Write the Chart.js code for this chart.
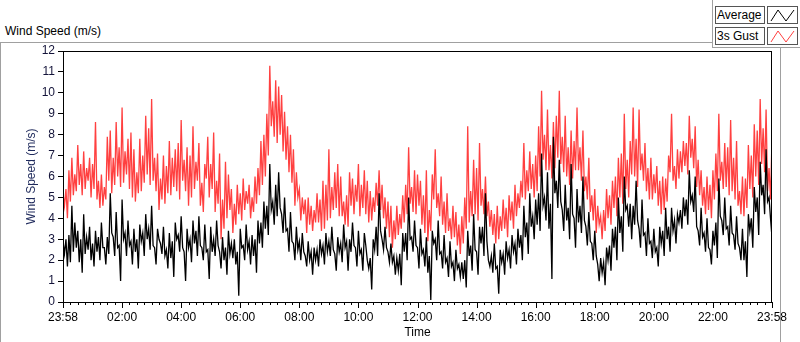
<!DOCTYPE html>
<html>
<head>
<meta charset="utf-8">
<script src="https://cdn.jsdelivr.net/npm/chart.js@4/dist/chart.umd.min.js"></script>
<style>
body{margin:0;background:#fff;font-family:"Liberation Sans",Arial,sans-serif;}
#wrap{position:relative;width:800px;height:342px;overflow:hidden;}
#frame{position:absolute;left:0;top:42px;width:779px;height:310px;border:1px solid #a0a0a0;}
#title{position:absolute;left:5px;top:24px;font-size:12px;color:#000;}
#legend{position:absolute;left:712px;top:0;width:88px;height:47px;background:#fff;border-left:1px solid #a0a0a0;border-bottom:1px solid #a0a0a0;}
.name{position:absolute;left:2px;width:47px;height:16px;border:1px solid #555;font-size:12px;line-height:16px;padding-left:1px;background:#fff;}
.icon{position:absolute;left:54px;width:29px;height:16px;border:1px solid #555;background:#fff;}
canvas{position:absolute;left:0;top:0;}
</style>
</head>
<body>
<div id="wrap">
  <div id="frame"></div>
  <div id="title">Wind Speed (m/s)</div>
  <div id="legend">
    <div class="name" style="top:6px">Average</div>
    <div class="icon" style="top:6px"><svg width="29" height="16"><polyline points="3,14 10,3 18,14 26,3" fill="none" stroke="#000" stroke-width="1"/></svg></div>
    <div class="name" style="top:27px">3s Gust</div>
    <div class="icon" style="top:27px"><svg width="29" height="16"><polyline points="3,14 10,3 18,14 26,3" fill="none" stroke="#ff4040" stroke-width="1"/></svg></div>
  </div>
  <canvas id="chart" width="800" height="342"></canvas>
</div>
<script>
// samples roughly every 3 minutes from 23:58 to 23:58
const spanMinutes = 1440

const tickLabels = ['23:58', '02:00', '04:00', '06:00', '08:00', '10:00', '12:00',
    '14:00', '16:00', '18:00', '20:00', '22:00', '23:58']

const gust = [
    5.2,4.6, 5.4,4.0, 6.3,4.8, 6.9,5.1, 6.1,5.3, 7.5,5.6, 6.6,5.1, 7.2,5.4, 6.4,5.8, 6.9,5.0,
    6.6,5.4, 8.6,4.9, 5.8,4.5, 6.1,4.6, 5.5,4.9, 7.9,5.8, 8.2,5.2, 6.9,5.6, 8.6,6.0, 7.4,5.5,
    9.3,5.7, 7.2,6.1, 7.8,5.4, 8.1,5.0, 7.3,4.8, 6.2,5.2, 7.8,5.3, 7.0,5.7, 8.9,6.1, 8.3,5.6,
    9.7,5.8, 6.9,5.3, 7.1,4.4, 5.9,4.9, 7.0,4.7, 6.5,5.2, 7.7,5.1, 6.9,5.5, 7.3,5.3, 7.6,4.9,
    8.7,5.8, 6.8,5.3, 7.4,4.6, 7.0,5.0, 8.4,5.4, 6.7,5.8, 7.6,4.6, 5.7,4.3, 6.6,5.9,
    7.9,5.0, 6.6,5.4, 8.1,4.3, 5.8,4.7, 7.1,3.0, 4.9,3.5, 6.7,4.0, 6.1,4.4, 5.4,3.3, 4.7,3.7,
    5.6,4.2, 5.2,3.9, 5.9,4.4, 5.3,4.7, 5.6,4.0, 5.0,4.3, 6.0,4.7, 6.4,5.1, 7.7,5.6, 8.0,6.0,
    9.0,7.0, 11.3,8.4, 9.6,7.9, 10.6,7.6, 10.3,8.0, 9.9,7.2, 9.1,6.8, 8.4,6.2, 8.0,5.7, 7.3,4.6,
    6.2,5.0, 5.4,3.9, 5.0,4.2, 4.9,3.3, 5.0,3.7, 4.6,3.4, 4.4,3.8, 5.2,3.8, 4.9,3.4, 5.8,3.5,
    5.6,3.9, 7.3,4.0, 5.5,4.4, 6.2,4.5, 6.6,4.1, 6.0,4.1, 4.8,3.7, 5.1,3.6,
    6.2,4.6, 5.9,4.2, 5.6,4.8, 6.6,4.1, 5.6,4.5, 6.3,4.2, 5.8,3.8, 5.3,3.9, 5.0,4.3, 5.7,4.6,
    6.3,4.4, 5.6,4.0, 5.0,3.5, 4.8,3.1, 4.6,2.6, 3.9,3.0, 4.6,3.2, 4.2,3.5, 5.1,3.8, 5.6,4.2,
    7.4,4.7, 5.5,4.3, 6.3,4.2, 6.1,4.6, 5.8,3.7, 5.1,3.3, 6.3,2.9, 4.4,3.4, 6.1,4.9, 7.3,4.5,
    5.2,4.1, 6.0,3.7, 4.8,3.3, 5.2,3.4, 4.0,3.0, 4.6,3.1, 4.3,2.7, 3.7,2.3, 4.1,2.8, 5.0,3.5,
    8.4,3.8, 5.3,4.1, 6.8,4.2, 6.4,3.9, 7.6,4.6, 5.4,4.2, 6.0,4.1, 4.8,3.6,
    4.4,3.2, 4.2,2.8, 4.6,3.0, 4.1,3.4, 4.9,3.5, 4.5,3.1, 5.1,3.9, 4.8,3.5, 5.6,4.1, 5.2,4.5,
    5.8,5.0, 7.6,4.9, 6.3,5.3, 7.2,5.4, 6.6,5.0, 7.0,5.3, 8.4,6.0, 10.1,6.8, 8.0,6.3, 9.2,6.3,
    7.5,5.9, 8.6,6.4, 8.9,6.9, 10.1,6.6, 7.9,6.2, 8.9,6.0, 7.4,5.6, 8.2,5.9, 7.7,6.3, 9.3,6.3,
    7.4,5.8, 8.2,5.3, 6.0,4.9, 6.9,4.3, 5.1,3.9, 5.4,3.3, 4.6,3.7, 4.1,3.0, 4.4,3.4, 5.4,4.0,
    5.1,3.7, 5.8,4.5, 6.0,4.1, 6.9,5.0, 7.1,4.7, 9.0,5.4, 6.8,5.0, 7.7,6.1,
    9.3,6.0, 7.8,5.5, 9.2,6.3, 7.1,5.8, 7.6,5.3, 6.4,4.9, 6.9,4.9, 6.1,5.2, 6.5,4.6, 5.8,4.2,
    6.0,4.4, 5.9,4.8, 7.0,6.2, 9.0,5.8, 6.5,5.4, 7.3,5.9, 7.2,6.2, 7.7,6.5, 7.6,6.1, 8.9,6.9,
    7.8,6.4, 8.4,5.5, 6.8,5.1, 6.3,4.6, 5.5,4.2, 6.0,4.4, 5.6,4.0, 6.3,4.9, 7.1,5.3, 9.0,5.8,
    6.7,5.4, 7.6,5.5, 7.4,5.1, 8.7,5.3, 6.9,4.9, 7.7,4.6, 5.3,4.2, 6.0,4.1, 5.9,4.5, 7.5,5.4,
    7.0,5.0, 8.5,6.0, 8.2,5.6, 9.7,6.6, 8.3,6.2, 9.2,5.3, 6.4,4.9, 7.8
]

const average = [
    2.9,2.3, 3.0,1.7, 3.2,1.9, 4.6,2.4, 3.8,2.6, 3.4,1.9, 3.0,1.4, 4.2,2.3, 3.1,2.5, 3.6,2.0,
    2.8,1.7, 3.4,2.4, 3.1,2.0, 3.8,2.6, 2.6,1.8, 3.1,2.3, 5.2,3.3, 3.1,2.2, 4.3,2.6, 2.7,1.0,
    4.9,3.0, 3.3,2.2, 3.9,2.7, 2.9,1.8, 3.5,2.4, 3.0,1.6, 3.7,2.9, 3.3,2.2, 4.2,3.0, 3.5,2.5,
    4.6,2.7, 2.6,1.8, 3.5,3.0, 2.8,2.3, 3.6,2.2, 2.5,1.6, 3.3,2.1, 2.9,1.2, 3.8,3.0, 3.2,2.4,
    4.1,2.6, 2.4,1.0, 3.5,2.6, 3.0,1.9, 3.9,2.8, 3.4,2.2, 4.1,2.7, 2.6,2.0, 3.7,2.4,
    2.5,1.1, 3.6,2.4, 3.0,2.2, 3.9,2.7, 2.4,1.6, 3.1,2.0, 2.6,1.3, 3.4,2.3, 2.8,2.1, 3.0,1.8,
    2.4,0.3, 3.5,2.6, 2.7,2.0, 3.7,2.5, 2.9,1.8, 3.2,2.2, 3.0,1.4, 3.9,2.8, 3.8,2.6, 4.8,3.5,
    4.6,3.2, 6.6,4.4, 4.8,3.7, 5.6,4.1, 6.2,4.5, 4.2,3.3, 5.0,3.4, 3.5,2.4, 4.3,2.9, 2.8,2.0,
    3.6,2.5, 2.9,2.0, 3.3,2.4, 2.2,1.7, 2.9,2.0, 2.4,1.3, 2.6,2.0, 2.5,1.7, 3.0,2.3, 2.7,1.8,
    3.3,2.4, 2.9,2.2, 3.6,2.5, 2.3,1.5, 3.1,2.4, 2.8,1.9, 3.7,2.6, 2.9,1.5,
    3.0,2.4, 3.8,2.7, 2.6,1.7, 3.4,2.3, 2.5,1.5, 3.3,2.7, 2.0,1.6, 2.1,0.6, 3.0,2.5, 3.6,2.2,
    5.2,3.4, 3.0,2.5, 3.6,2.6, 2.4,1.9, 2.8,1.9, 2.2,1.3, 2.1,1.5, 2.3,0.8, 3.3,2.4, 3.3,2.0,
    5.0,3.0, 3.1,2.4, 3.9,2.7, 2.6,1.6, 3.5,2.3, 2.5,1.7, 3.1,1.4, 2.2,0.1, 3.4,2.8, 3.0,2.0,
    3.9,2.3, 2.4,1.6, 3.2,1.9, 2.1,1.2, 2.9,1.7, 1.9,1.0, 2.5,1.6, 1.8,1.2, 1.9,1.1, 2.0,0.7,
    3.4,2.2, 2.7,1.5, 4.2,2.5, 2.4,1.3, 3.6,2.8, 3.6,2.2, 5.2,2.9, 2.0,1.7,
    2.2,1.4, 2.8,1.6, 1.7,0.4, 2.5,1.9, 2.3,1.3, 2.9,2.1, 2.5,1.6, 3.2,2.4, 2.8,1.8, 3.5,2.6,
    3.2,2.0, 4.6,3.1, 3.8,2.3, 5.2,3.6, 4.1,3.0, 4.9,3.7, 5.2,3.4, 7.1,4.6, 5.0,3.9, 6.2,3.5,
    4.7,1.1, 7.9,5.2, 5.8,4.5, 6.8,4.8, 4.4,3.4, 5.6,3.9, 4.5,3.0, 6.6,4.2, 4.0,2.6, 5.4,3.8,
    4.6,3.3, 6.0,3.9, 3.6,2.7, 4.3,2.9, 2.8,2.0, 3.4,2.2, 1.8,1.0, 2.1,1.4, 1.9,0.8, 2.6,2.0,
    2.7,1.5, 3.5,2.6, 3.6,2.0, 5.0,3.3, 4.1,2.4, 6.0,4.4, 4.6,3.6, 4.7,3.0,
    4.6,3.7, 5.8,3.9, 3.5,2.6, 4.9,3.2, 3.3,2.2, 4.0,2.8, 2.9,2.1, 3.5,2.4, 2.6,1.7, 3.6,2.8,
    3.4,2.2, 4.5,3.0, 3.6,2.4, 4.5,3.4, 3.9,2.8, 4.2,3.8, 4.4,3.5, 5.0,4.1, 4.9,3.7, 6.3,4.8,
    5.1,4.3, 6.0,3.6, 3.4,2.7, 4.5,3.1, 3.3,2.4, 4.0,2.6, 2.5,1.8, 3.4,2.7, 3.8,2.1, 5.9,4.1,
    3.9,3.2, 5.0,3.5, 3.6,2.7, 4.6,3.3, 3.2,2.5, 4.1,2.8, 2.6,2.0, 3.5,2.0, 2.9,1.2, 4.2,3.4,
    4.0,2.6, 5.5,4.3, 5.0,3.2, 6.7,5.1, 5.6,4.2, 7.3,4.8, 5.0,4.0, 3.1
]

function toPoints(values) {
    const step = spanMinutes / (values.length - 1)
    return values.map((v, i) => ({ x: i * step, y: v }))
}

// plot border + major/minor time ticks
const framePlugin = {
    id: 'frame',
    afterDraw(chart) {
        const ctx = chart.ctx
        const a = chart.chartArea
        const xs = chart.scales.x
        ctx.save()
        ctx.strokeStyle = '#000'
        ctx.lineWidth = 1
        ctx.strokeRect(a.left + 0.5, a.top + 0.5, a.right - a.left - 1, a.bottom - a.top)
        ctx.beginPath()
        for (let m = 0; m <= spanMinutes; m += 15) {
            const px = Math.round(xs.getPixelForValue(m)) + 0.5
            const len = m % 120 === 0 ? 6 : 3
            ctx.moveTo(px, a.bottom)
            ctx.lineTo(px, a.bottom + len)
        }
        ctx.stroke()
        ctx.restore()
    }
}

Chart.defaults.font.family = '"Liberation Sans", Arial, sans-serif'
Chart.defaults.font.size = 12

const ctx = document.getElementById('chart').getContext('2d')
const windChart = new Chart(ctx, {
    type: 'line',
    data: {
        datasets: [{
            label: 'Average',
            data: toPoints(average),
            borderColor: '#000000',
            borderWidth: 1.3,
            pointRadius: 0,
            tension: 0
        }, {
            label: '3s Gust',
            data: toPoints(gust),
            borderColor: '#ff4040',
            borderWidth: 1.3,
            pointRadius: 0,
            tension: 0
        }]
    },
    options: {
        responsive: false,
        animation: false,
        layout: { padding: { top: 51, right: 28, left: 0, bottom: 0 } },
        plugins: { legend: { display: false }, tooltip: { enabled: false } },
        scales: {
            x: {
                type: 'linear',
                min: 0,
                max: spanMinutes,
                afterFit: s => { s.height = 40 },
                afterBuildTicks: s => {
                    s.ticks = tickLabels.map((t, i) => ({ value: i * 120 }))
                },
                grid: { display: false, drawTicks: false },
                border: { color: '#000' },
                ticks: {
                    color: '#000',
                    padding: 8,
                    maxRotation: 0,
                    autoSkip: false,
                    callback: (v) => tickLabels[Math.round(v / 120)]
                },
                title: { display: true, text: 'Time', color: '#000', padding: { top: 0, bottom: 2 } }
            },
            y: {
                min: 0,
                max: 12,
                afterFit: s => { s.width = 63 },
                grid: { drawOnChartArea: false, drawTicks: true, tickLength: 5, color: '#000' },
                border: { color: '#000' },
                ticks: { stepSize: 1, color: '#14143a', padding: 3 },
                title: { display: true, text: 'Wind Speed (m/s)', color: '#1f2a5c', padding: { top: 24, bottom: 0 } }
            }
        }
    },
    plugins: [framePlugin]
})
</script>
</body>
</html>
